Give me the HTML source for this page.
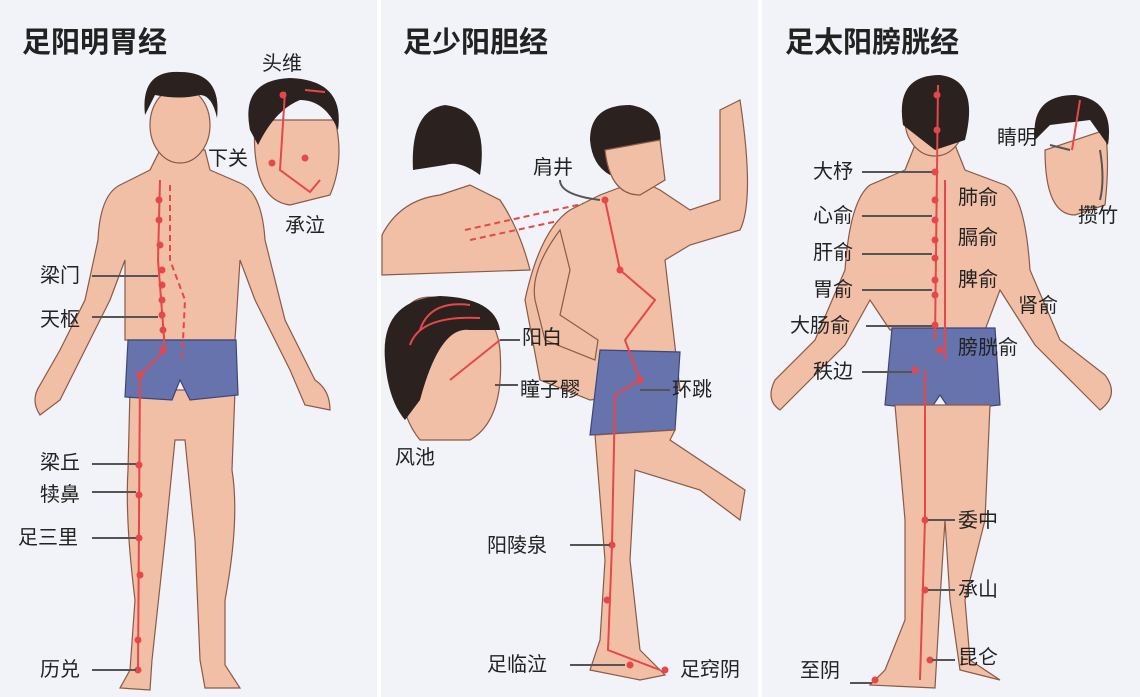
<!DOCTYPE html><html><head><meta charset="utf-8"><style>
body{margin:0;width:1140px;height:697px;overflow:hidden;background:#fff;font-family:"Liberation Sans","Noto Sans CJK SC",sans-serif}
svg{display:block}
text{font-family:"Liberation Sans","Noto Sans CJK SC",sans-serif;fill:#222;font-size:20px}
.t{font-size:29px;font-weight:bold}
.l{stroke:#555;stroke-width:2;fill:none}
.m{stroke:#e5474b;stroke-width:2;fill:none}
.d{stroke:#e5474b;stroke-width:2;fill:none;stroke-dasharray:6 4}
.s{fill:#f1bfa5;stroke:#8a5a48;stroke-width:1.2}
.h{fill:#2b211e}
.p{fill:#6673ad;stroke:#3d4677;stroke-width:1.2}
</style></head><body>
<svg width="1140" height="697" viewBox="0 0 1140 697">
<rect x="0" y="0" width="377" height="697" fill="#f1f3f8"/>
<rect x="381" y="0" width="377" height="697" fill="#f1f3f8"/>
<rect x="762" y="0" width="378" height="697" fill="#f1f3f8"/>

<!-- Panel 1 figure -->
<g>
<path class="s" d="M150,170 L120,185 Q100,195 98,240 L85,300 L60,350 L40,385 Q30,400 40,415 L60,400 L75,370 L110,300 L125,260 L125,340 L235,340 L240,260 L255,300 L290,370 L305,405 L330,410 Q330,390 315,380 L285,320 L265,240 Q262,192 240,183 L210,170 L205,150 L160,150 Z"/>
<path class="s" d="M130,390 L128,470 Q125,520 135,600 L130,670 L120,688 L150,690 L152,660 L165,540 L175,440 L185,440 L195,540 L200,660 L205,688 L240,688 L225,665 L225,600 Q240,520 232,470 L235,390 Z"/>
<path class="p" d="M128,340 L236,340 L238,395 L190,400 L180,380 L172,400 L125,397 Z"/>
<ellipse class="s" cx="180" cy="125" rx="30" ry="38"/>
<path class="h" d="M145,115 Q140,70 180,72 Q222,72 217,118 Q212,95 200,95 Q180,100 155,95 Z"/>
<!-- head inset -->
<path class="s" d="M255,120 Q250,200 290,205 L330,195 Q345,160 335,120 Z"/>
<path class="h" d="M250,130 Q240,80 290,78 Q345,80 338,130 Q325,100 300,100 Q275,110 258,145 Z"/>
<path class="m" d="M285,92 L280,170 L310,192 L320,180 M305,90 L325,92"/>
<circle cx="283" cy="95" r="3.5" fill="#e5474b"/><circle cx="272" cy="163" r="3.5" fill="#e5474b"/><circle cx="305" cy="158" r="3.5" fill="#e5474b"/>
<path class="m" d="M160,180 L158,260 L165,350 L140,375 L138,670"/>
<path class="d" d="M170,185 L170,260 L185,300 L182,360"/>
<g fill="#e5474b"><circle cx="159" cy="200" r="3.5"/><circle cx="159" cy="220" r="3.5"/><circle cx="160" cy="245" r="3.5"/><circle cx="162" cy="270" r="3.5"/><circle cx="162" cy="285" r="3.5"/><circle cx="162" cy="300" r="3.5"/><circle cx="162" cy="315" r="3.5"/><circle cx="163" cy="330" r="3.5"/><circle cx="163" cy="350" r="3.5"/><circle cx="140" cy="375" r="3.5"/><circle cx="139" cy="465" r="3.5"/><circle cx="139" cy="495" r="3.5"/><circle cx="139" cy="538" r="3.5"/><circle cx="140" cy="575" r="3.5"/><circle cx="138" cy="640" r="3.5"/><circle cx="138" cy="670" r="3.5"/></g>
</g>
<text class="t" x="22" y="52">足阳明胃经</text>
<text x="262" y="70">头维</text><text x="208" y="165">下关</text><text x="285" y="232">承泣</text>
<text x="40" y="282">梁门</text><text x="40" y="326">天枢</text><text x="40" y="469">梁丘</text><text x="40" y="501">犊鼻</text><text x="18" y="544">足三里</text><text x="40" y="676">历兑</text>
<path class="l" d="M92,276 H158 M92,317 H158 M92,464 H136 M92,492 H136 M92,538 H136 M92,670 H136"/>

<!-- Panel 2 -->
<path class="s" d="M382,235 Q400,200 440,195 L470,185 L500,200 Q520,230 530,270 L382,275 Z"/>
<path class="h" d="M413,170 Q410,110 445,105 Q490,110 480,175 Q460,160 445,165 Z"/>
<path class="d" d="M465,230 L600,200 M470,240 L600,212"/>
<path class="s" d="M400,350 Q395,290 440,298 Q495,300 500,350 Q505,420 470,440 L420,440 Q395,410 400,350 Z"/>
<path class="h" d="M385,360 Q380,300 440,296 Q495,298 500,330 L470,330 Q440,325 420,400 L405,420 Q388,400 385,360 Z"/>
<path class="m" d="M420,330 Q430,300 470,305 M410,345 Q420,315 480,318 M450,380 L500,340"/>
<path class="s" d="M600,195 L570,210 Q540,230 525,300 L540,380 L590,400 L680,390 L665,260 L690,245 L740,230 Q755,200 740,100 L720,110 L720,200 L690,210 L660,190 L640,180 Z"/>
<path class="s" d="M560,230 Q530,270 535,300 L545,340 L595,360 L598,340 L560,315 L570,270 Z"/>
<path class="h" d="M590,140 Q590,105 630,105 Q665,110 660,150 L640,160 L610,175 Q592,165 590,140 Z"/>
<path class="s" d="M605,150 Q610,195 640,195 L665,180 L660,140 Z"/>
<path class="p" d="M600,350 L680,352 L675,430 L590,435 Z"/>
<path class="s" d="M595,435 L605,560 L600,640 L590,670 L640,680 L665,675 L640,650 L630,560 L635,470 L700,490 L740,520 L745,490 L670,440 L675,430 Z"/>
<path class="m" d="M605,200 L620,270 L655,300 L625,340 L640,380 L615,395 L612,545 L608,650 L660,670"/>
<g fill="#e5474b"><circle cx="605" cy="200" r="3.5"/><circle cx="620" cy="270" r="3.5"/><circle cx="640" cy="380" r="3.5"/><circle cx="612" cy="545" r="3.5"/><circle cx="607" cy="600" r="3.5"/><circle cx="630" cy="665" r="3.5"/><circle cx="665" cy="670" r="3.5"/></g>
<text class="t" x="403" y="52">足少阳胆经</text>
<text x="533" y="174">肩井</text><text x="522" y="344">阳白</text><text x="520" y="396">瞳子髎</text><text x="672" y="396">环跳</text><text x="395" y="464">风池</text><text x="487" y="552">阳陵泉</text><text x="487" y="671">足临泣</text><text x="680" y="676">足窍阴</text>
<path class="l" d="M560,180 Q560,195 600,200 M500,340 H520 M495,385 H518 M640,390 H670 M570,545 H610 M570,665 H625"/>

<!-- Panel 3 -->
<path class="s" d="M905,170 L870,185 Q850,200 845,270 L815,340 L775,380 Q765,400 780,410 L805,385 L845,345 L870,300 L890,330 L985,330 L1000,290 L1035,345 L1075,385 L1100,410 Q1120,395 1105,375 L1060,340 L1030,270 Q1025,195 1005,185 L965,170 L955,145 L915,145 Z"/>
<ellipse class="s" cx="935" cy="120" rx="30" ry="36"/>
<path class="h" d="M903,125 Q895,75 940,75 Q980,80 965,140 L935,150 Z"/>
<path class="p" d="M892,328 L995,328 L1000,405 L950,410 L940,395 L930,410 L885,405 Z"/>
<path class="s" d="M895,405 L905,520 L905,620 L885,670 L870,685 L935,688 L940,600 L945,520 L950,600 L960,670 L1000,680 L970,660 L965,600 L985,520 L990,405 Z"/>
<path class="s" d="M1045,150 Q1045,215 1075,215 L1105,205 Q1110,160 1105,130 Z"/>
<path class="h" d="M1035,140 Q1030,95 1075,95 Q1115,100 1108,145 L1090,120 L1050,125 Z"/>
<path class="m" d="M938,85 L935,340 M945,180 L945,360 M925,370 L925,520 L920,680 M1080,100 L1072,150"/>
<g fill="#e5474b"><circle cx="937" cy="95" r="3.5"/><circle cx="937" cy="130" r="3.5"/><circle cx="935" cy="172" r="3.5"/><circle cx="935" cy="200" r="3.5"/><circle cx="935" cy="220" r="3.5"/><circle cx="935" cy="240" r="3.5"/><circle cx="935" cy="258" r="3.5"/><circle cx="935" cy="280" r="3.5"/><circle cx="935" cy="295" r="3.5"/><circle cx="935" cy="325" r="3.5"/><circle cx="940" cy="350" r="3.5"/><circle cx="915" cy="370" r="3.5"/><circle cx="925" cy="520" r="3.5"/><circle cx="925" cy="590" r="3.5"/><circle cx="930" cy="660" r="3.5"/><circle cx="875" cy="680" r="3.5"/></g>
<text class="t" x="785" y="52">足太阳膀胱经</text>
<text x="997" y="144">睛明</text><text x="1078" y="222">攒竹</text><text x="813" y="178">大杼</text><text x="958" y="204">肺俞</text><text x="813" y="222">心俞</text><text x="958" y="244">膈俞</text><text x="813" y="259">肝俞</text><text x="958" y="286">脾俞</text><text x="813" y="296">胃俞</text><text x="1018" y="312">肾俞</text><text x="790" y="332">大肠俞</text><text x="958" y="354">膀胱俞</text><text x="813" y="378">秩边</text><text x="958" y="527">委中</text><text x="958" y="596">承山</text><text x="958" y="664">昆仑</text><text x="800" y="677">至阴</text>
<path class="l" d="M862,172 H932 M862,216 H932 M862,254 H932 M862,290 H932 M866,326 H932 M862,372 H912 M928,520 H955 M928,590 H955 M932,660 H955 M850,683 H872 M1100,150 Q1105,180 1100,200 M1050,145 L1070,150"/>
</svg>
</body></html>
